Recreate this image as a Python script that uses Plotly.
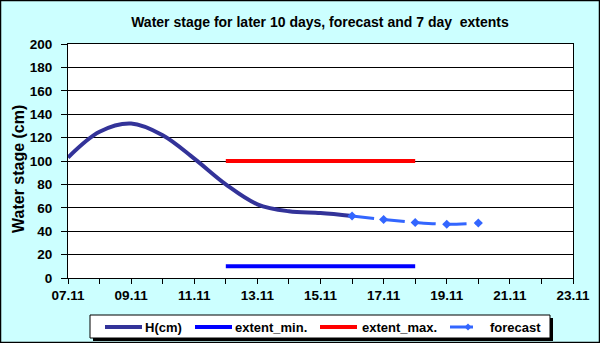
import plotly.graph_objects as go

# observed water stage (daily)
h_dates = ["2008-11-07", "2008-11-08", "2008-11-09", "2008-11-10", "2008-11-11",
           "2008-11-12", "2008-11-13", "2008-11-14", "2008-11-15", "2008-11-16"]
h_values = [103, 125, 132, 122, 102, 80, 63, 57, 55.5, 53]

# forecast
fc_dates = ["2008-11-16", "2008-11-17", "2008-11-18", "2008-11-19", "2008-11-20"]
fc_values = [53, 50, 47.5, 46, 47]

# 7 day extents
ext_dates = ["2008-11-12", "2008-11-18"]
ext_min = [10, 10]
ext_max = [100, 100]

series_names = ["H(cm)", "extent_min.", "extent_max.", "forecast"]
series_colors = ["#333399", "#0000FF", "#FF0000", "#3366FF"]

FONT = "Liberation Sans, Arial, sans-serif"
W, H = 600, 343
L, R, T, B = 68, 27, 44, 65
PW, PH = W - L - R, H - T - B


def px_x(x):
    return (x - L) / PW


def px_y(y):
    return (H - B - y) / PH


fig = go.Figure()
fig.add_trace(go.Scatter(x=h_dates, y=h_values, name=series_names[0], mode="lines",
                         line=dict(color=series_colors[0], width=4, shape="spline")))
fig.add_trace(go.Scatter(x=ext_dates, y=ext_min, name=series_names[1], mode="lines",
                         line=dict(color=series_colors[1], width=4)))
fig.add_trace(go.Scatter(x=ext_dates, y=ext_max, name=series_names[2], mode="lines",
                         line=dict(color=series_colors[2], width=4)))
fig.add_trace(go.Scatter(x=fc_dates, y=fc_values, name=series_names[3], mode="lines+markers",
                         line=dict(color=series_colors[3], width=3, shape="spline", dash="22px,9px"),
                         marker=dict(symbol="diamond", size=7, color=series_colors[3])))

fig.update_layout(
    width=W, height=H,
    margin=dict(l=L, r=R, t=T, b=B, autoexpand=False),
    paper_bgcolor="#CCFFFF",
    plot_bgcolor="white",
    font=dict(family=FONT, size=12, color="black"),
    title=dict(text="Water stage for later 10 days, forecast and 7 day  extents",
               x=320 / W, xanchor="center", y=1 - 22 / H, yanchor="middle",
               font=dict(size=14, weight="bold")),
    showlegend=False,
)

fig.update_xaxes(
    type="date", range=["2008-11-07", "2008-11-23"],
    tick0="2008-11-07", dtick=2 * 86400000, tickformat="%d.%m",
    ticks="outside", ticklen=5, tickcolor="black",
    minor=dict(dtick=86400000, ticks="outside", ticklen=5, tickcolor="black", showgrid=False),
    showline=True, linecolor="black", linewidth=1, mirror=True,
    showgrid=False, tickfont=dict(size=13.5, weight="bold"), automargin=False,
)
fig.update_yaxes(
    range=[0, 200], dtick=20,
    ticks="outside", ticklen=6, tickcolor="black", ticklabelstandoff=6,
    showline=True, linecolor="black", linewidth=1, mirror=True,
    showgrid=True, gridcolor="black", gridwidth=1, zeroline=False,
    tickfont=dict(size=13.5, weight="bold"), automargin=False,
)

# y axis title
fig.add_annotation(text="Water stage (cm)", textangle=-90, showarrow=False,
                   xref="paper", yref="paper", x=px_x(18), y=px_y(169),
                   xanchor="center", yanchor="middle",
                   font=dict(size=16, weight="bold"))

# outer chart frame
fig.add_shape(type="rect", xref="paper", yref="paper",
              x0=px_x(0.5), x1=px_x(599.5), y0=px_y(342.5), y1=px_y(0.5),
              line=dict(color="black", width=1.5), layer="below")

# legend box (drawn by hand to follow the original spacing), with shadow
fig.add_shape(type="rect", xref="paper", yref="paper",
              x0=px_x(93), x1=px_x(553), y0=px_y(341), y1=px_y(318),
              fillcolor="black", line=dict(width=0), layer="above")
fig.add_shape(type="rect", xref="paper", yref="paper",
              x0=px_x(90), x1=px_x(550), y0=px_y(338), y1=px_y(315),
              fillcolor="white", line=dict(color="black", width=1), layer="above")
sample_x = [105, 195, 320, 450]
text_x = [143, 233, 360, 488]
leg_y = 327
for i, name in enumerate(series_names):
    x_end = sample_x[i] + (23 if i == 3 else 37)
    fig.add_shape(type="line", xref="paper", yref="paper",
                  x0=px_x(sample_x[i]), x1=px_x(x_end), y0=px_y(leg_y), y1=px_y(leg_y),
                  line=dict(color=series_colors[i], width=3 if i == 3 else 4), layer="above")
    fig.add_annotation(text=name, showarrow=False, xref="paper", yref="paper",
                       x=px_x(text_x[i]), y=px_y(leg_y), xanchor="left", yanchor="middle",
                       font=dict(size=13, weight="bold"))
# forecast legend marker
mx, my, d = 468, leg_y, 3.5
fig.add_shape(type="path", xref="paper", yref="paper",
              path=f"M{px_x(mx - d)},{px_y(my)} L{px_x(mx)},{px_y(my - d)} "
                   f"L{px_x(mx + d)},{px_y(my)} L{px_x(mx)},{px_y(my + d)} Z",
              fillcolor=series_colors[3], line=dict(width=0), layer="above")

fig.write_html("out.html", config={"displayModeBar": False},
               post_script="document.body.style.margin='0';")
